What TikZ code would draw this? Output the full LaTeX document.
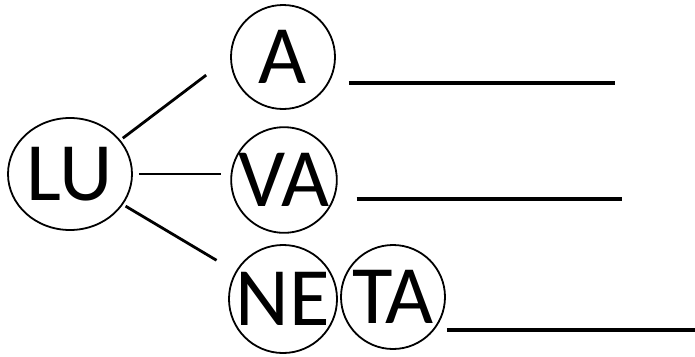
\documentclass[tikz,border=0pt]{standalone}
\usepackage{fontspec}
\setmainfont{Carlito}
\usetikzlibrary{shapes.geometric, calc}

\begin{document}
\begin{tikzpicture}[
  x=1pt, y=-1pt,
  font=\fontsize{83}{83}\selectfont,
  syl/.style={circle, draw, line width=1.8pt, inner sep=0pt, minimum size=104pt},
  root/.style={ellipse, draw, line width=1.8pt, inner sep=0pt, minimum width=124pt, minimum height=112pt},
  link/.style={line width=2.8pt},
  blank/.style={line width=3.6pt}
]
  \useasboundingbox (0,0) rectangle (695,356);
  \node[root] (lu) at (70,174) {LU};
  \node[syl] (a)  at (283,57)  {A};
  \node[syl] (va) at (284,180) {VA};
  \node[syl] (ne) at (283,299) {NE};
  \node[syl] (ta) at (393,297) {TA};
  \draw[link, shorten <=3pt, shorten >=30pt] (lu.34) -- (a.west);
  \draw[link, shorten <=6pt, shorten >=9pt] (lu.east) -- (lu.east -| va.west);
  \draw[link, shorten <=3pt, shorten >=22pt] (lu.-30) -- (ne.150);
  \draw[blank] ([xshift=13pt, yshift=-26pt]a.east) -- ++(266,0);
  \draw[blank] ([xshift=19pt, yshift=-19pt]va.east) -- ++(265,0);
  \draw[blank] ([xshift=1pt, yshift=-33pt]ta.east) -- ++(250,0);
\end{tikzpicture}
\end{document}
